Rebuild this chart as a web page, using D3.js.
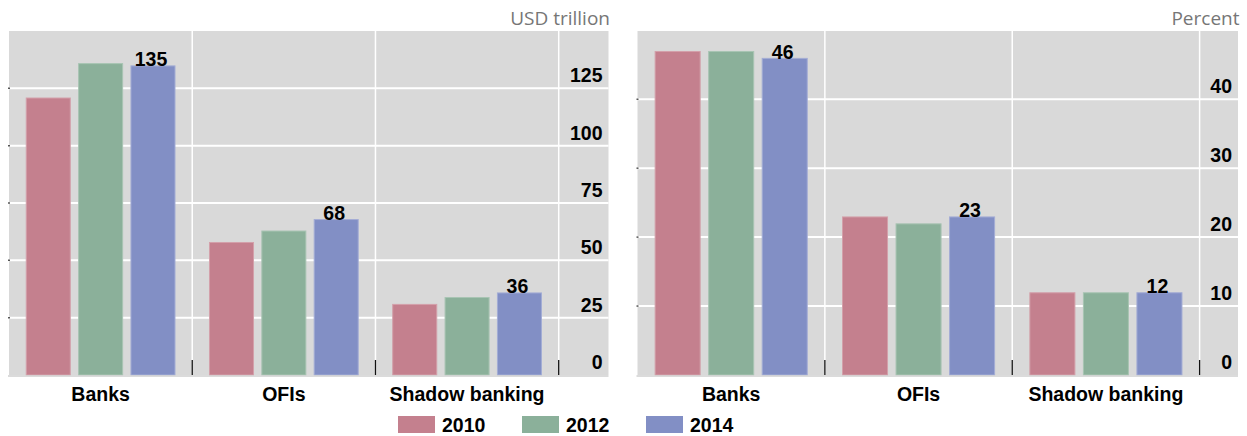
<!DOCTYPE html>
<html>
<head>
<meta charset="utf-8">
<script src="https://cdn.jsdelivr.net/npm/d3@7"></script>
<style>
  html, body { margin: 0; padding: 0; background: #fff; }
  svg { display: block; }
  .bold { font-family: "Liberation Sans", Arial, sans-serif; font-weight: bold; fill: #000; }
  .unit { font-family: "Open Sans", "Noto Sans", sans-serif; fill: #767676; }
</style>
</head>
<body>
<svg id="chart" width="1247" height="436"></svg>
<script>
// Categories, years and values for the two panels
const categories = ["Banks", "OFIs", "Shadow banking"];
const years = ["2010", "2012", "2014"];

// Assets, USD trillion (rows follow categories, columns follow years)
const assetsUSD = [
  [121, 136, 135],
  [58, 63, 68],
  [31, 34, 36]
];
// Share of total financial assets, percent
const assetsPct = [
  [47, 47, 46],
  [23, 22, 23],
  [12, 12, 12]
];

const leftTicks = [0, 25, 50, 75, 100, 125];
const rightTicks = [0, 10, 20, 30, 40];

const colors = { "2010": "#c4808e", "2012": "#8bb09a", "2014": "#828fc5" };
const strokeColors = { "2010": "#d3a0aa", "2012": "#a8c4b3", "2014": "#a3acd5" };

const svg = d3.select("#chart");

function panel(opts) {
  const { left, bandEnd, right, top, bottom, values, yMax, ticks, unit } = opts;
  const g = svg.append("g");

  const x0 = d3.scaleBand().domain(categories).range([left, bandEnd]).padding(0);
  const x1 = d3.scaleBand().domain(years).range([0, x0.bandwidth()])
    .paddingInner(0.14).paddingOuter(0.32);
  const y = d3.scaleLinear().domain([0, yMax]).range([bottom, top]);

  // plot background
  g.append("rect")
    .attr("x", left).attr("y", top)
    .attr("width", right - left).attr("height", bottom - top)
    .attr("fill", "#d9d9d9");

  // horizontal gridlines
  g.selectAll("line.hgrid").data(ticks.filter(t => t > 0)).enter()
    .append("line")
    .attr("x1", left).attr("x2", right)
    .attr("y1", d => y(d)).attr("y2", d => y(d))
    .attr("stroke", "#ffffff").attr("stroke-width", 2);

  // small marks on the left edge at each gridline
  g.selectAll("line.lmark").data(ticks.filter(t => t > 0)).enter()
    .append("line")
    .attr("x1", left - 1).attr("x2", left + 1)
    .attr("y1", d => y(d)).attr("y2", d => y(d))
    .attr("stroke", "#555").attr("stroke-width", 1.5);

  // vertical separators between categories
  const seps = categories.map(c => x0(c) + x0.bandwidth());
  g.selectAll("line.vgrid").data(seps).enter()
    .append("line")
    .attr("x1", d => d).attr("x2", d => d)
    .attr("y1", top).attr("y2", bottom)
    .attr("stroke", "#ffffff").attr("stroke-width", 1.5);

  // bars
  categories.forEach((cat, i) => {
    const grp = g.append("g").attr("transform", `translate(${x0(cat)},0)`);
    grp.selectAll("rect").data(years.map((yr, j) => ({ yr, v: values[i][j] }))).enter()
      .append("rect")
      .attr("x", d => x1(d.yr) + 0.5)
      .attr("y", d => y(d.v) + 0.5)
      .attr("width", x1.bandwidth() - 1)
      .attr("height", d => bottom - y(d.v) - 0.5)
      .attr("fill", d => colors[d.yr])
      .attr("stroke", d => strokeColors[d.yr])
      .attr("stroke-width", 1);

    // value label on the latest year
    const last = years.length - 1;
    grp.append("text")
      .attr("class", "bold")
      .attr("x", x1(years[last]) + x1.bandwidth() / 2 - 2)
      .attr("y", y(values[i][last]) + 1)
      .attr("text-anchor", "middle")
      .attr("font-size", 19.5)
      .text(d3.format("d")(values[i][last]));
  });

  // x axis line
  g.append("line")
    .attr("x1", left - 1).attr("x2", right)
    .attr("y1", bottom + 1).attr("y2", bottom + 1)
    .attr("stroke", "#cfcfcf").attr("stroke-width", 1.5);

  // category tick marks
  g.selectAll("line.xtick").data(seps).enter()
    .append("line")
    .attr("x1", d => d).attr("x2", d => d)
    .attr("y1", bottom - 15).attr("y2", bottom)
    .attr("stroke", "#111").attr("stroke-width", 1.3);

  // category labels
  g.selectAll("text.cat").data(categories).enter()
    .append("text")
    .attr("class", "bold")
    .attr("x", d => x0(d) + x0.bandwidth() / 2)
    .attr("y", bottom + 26)
    .attr("text-anchor", "middle")
    .attr("font-size", 19.5)
    .text(d => d);

  // y tick labels, sitting just above each gridline
  g.selectAll("text.ytick").data(ticks).enter()
    .append("text")
    .attr("class", "bold")
    .attr("x", right - 6)
    .attr("y", d => y(d) - 6)
    .attr("text-anchor", "end")
    .attr("font-size", 19.5)
    .text(d => d);

  // unit label
  g.append("text")
    .attr("class", "unit")
    .attr("x", right + 1.5)
    .attr("y", 25)
    .attr("text-anchor", "end")
    .attr("font-size", 19)
    .text(unit);
}

panel({ left: 9, bandEnd: 558.7, right: 608.5, top: 31, bottom: 375,
        values: assetsUSD, yMax: 150, ticks: leftTicks, unit: "USD trillion" });
panel({ left: 637.5, bandEnd: 1199.6, right: 1238, top: 31, bottom: 375,
        values: assetsPct, yMax: 49.9, ticks: rightTicks, unit: "Percent" });

// legend
const legend = svg.append("g");
const lx = d3.scaleBand().domain(years).range([398, 770]);
years.forEach(yr => {
  legend.append("rect")
    .attr("x", lx(yr)).attr("y", 416)
    .attr("width", 37).attr("height", 17)
    .attr("fill", colors[yr]);
  legend.append("text")
    .attr("class", "bold")
    .attr("x", lx(yr) + 44).attr("y", 432)
    .attr("font-size", 19.5)
    .text(yr);
});
</script>
</body>
</html>
